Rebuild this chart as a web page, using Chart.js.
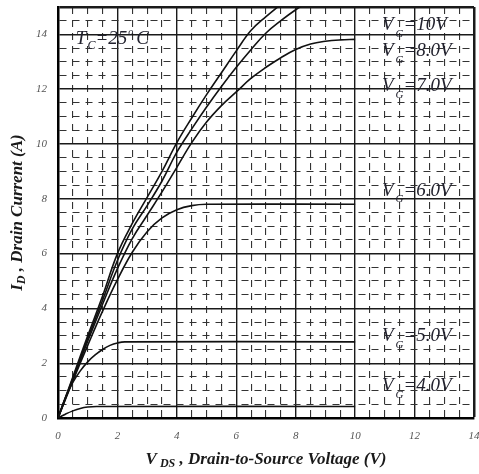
<!DOCTYPE html>
<html>
<head>
<meta charset="utf-8">
<script src="https://cdn.jsdelivr.net/npm/chart.js@4/dist/chart.umd.min.js"></script>
<style>
  html, body { margin: 0; padding: 0; background: #fff; }
  #wrap { width: 479px; height: 474px; }
</style>
</head>
<body>
<div id="wrap"><canvas id="ivChart"></canvas></div>
<script>
// output curves, [V_DS, I_D] pairs
const vg10 = [[0,0],[0.5,1.5],[1,3.0],[1.5,4.45],[2,6.0],[2.5,7.1],[3,8.05],[3.5,9.0],[4,10.05],[4.5,10.95],[5,11.8],[5.5,12.6],[6,13.4],[6.5,14.15],[7,14.65],[7.5,15.1]];
const vg8  = [[0,0],[0.5,1.45],[1,2.9],[1.5,4.3],[2,5.75],[2.5,6.9],[3,7.75],[3.5,8.65],[4,9.7],[4.5,10.55],[5,11.35],[5.5,12.1],[6,12.8],[6.5,13.45],[7,14.05],[7.5,14.5],[8,14.9],[8.3,15.1]];
const vg7  = [[0,0],[0.5,1.4],[1,2.8],[1.5,4.15],[2,5.45],[2.5,6.55],[3,7.4],[3.5,8.25],[4,9.15],[4.5,10.05],[5,10.8],[5.5,11.4],[6,11.9],[6.5,12.4],[7,12.8],[7.5,13.15],[8,13.45],[8.5,13.65],[9,13.75],[9.5,13.8],[10,13.82]];
const vg6  = [[0,0],[0.5,1.35],[1,2.65],[1.5,3.9],[2,5.05],[2.5,6.05],[3,6.8],[3.5,7.3],[4,7.6],[4.5,7.75],[5,7.8],[10,7.8]];
const vg5  = [[0,0],[0.25,0.75],[0.5,1.3],[0.75,1.72],[1,2.05],[1.25,2.3],[1.5,2.5],[1.75,2.65],[2,2.74],[2.25,2.78],[10,2.78]];
const vg4  = [[0,0],[0.25,0.14],[0.5,0.26],[0.75,0.35],[1,0.4],[1.3,0.42],[10,0.42]];

const curveNames = ["VG=10V", "VG=8.0V", "VG=7.0V", "VG=6.0V", "VG=5.0V", "VG=4.0V"];

// curve labels on the right side: [gate text, x, y]
const curveLabels = [["=10V", 10.9, 14.33], ["=8.0V", 10.9, 13.38], ["=7.0V", 10.9, 12.1],
                     ["=6.0V", 10.9, 8.3], ["=5.0V", 10.9, 2.99], ["=4.0V", 10.9, 1.16]];

const xMax = 14, yMax = 15;
const serif = '"Liberation Serif", "DejaVu Serif", serif';

const toPts = arr => arr.map(p => ({ x: p[0], y: p[1] }));

const isMajor = v => Math.abs(v % 2) < 1e-6;

function gridOpts(limit) {
  return {
    drawTicks: false,
    color: ctx => isMajor(ctx.tick.value) || ctx.tick.value === limit ? '#1a1a1a' : '#333',
    lineWidth: ctx => ctx.tick.value === limit ? 2.5 : (isMajor(ctx.tick.value) ? 1.4 : 1.1)
  };
}

function borderOpts(limit) {
  return {
    display: true,
    color: '#000',
    width: 2.5,
    dash: ctx => (ctx.tick && !isMajor(ctx.tick.value) && ctx.tick.value !== limit) ? [7, 6] : []
  };
}

// draws main text + subscript + rest, returns end x
function drawSub(ctx, x, y, main, sub, rest, size, bold, subSize, subDrop, gap) {
  const w = bold ? 'bold ' : '';
  ctx.font = `italic ${w}${size}px ${serif}`;
  ctx.fillText(main, x, y);
  x += ctx.measureText(main).width + (gap || 0);
  ctx.font = `italic ${w}${subSize}px ${serif}`;
  ctx.fillText(sub, x, y + subDrop);
  x += ctx.measureText(sub).width;
  ctx.font = `italic ${w}${size}px ${serif}`;
  ctx.fillText(rest, x, y);
  return x + ctx.measureText(rest).width;
}

const textPlugin = {
  id: 'ivText',
  afterDraw(chart) {
    const { ctx, scales: { x, y }, chartArea } = chart;
    ctx.save();
    ctx.textBaseline = 'middle';
    ctx.textAlign = 'left';
    ctx.fillStyle = '#22222e';
    curveLabels.forEach(l => {
      drawSub(ctx, x.getPixelForValue(l[1]), y.getPixelForValue(l[2]), 'V', 'G', l[0], 19, false, 11, 9, 2);
    });

    // case temperature
    let px = x.getPixelForValue(0.6), py = y.getPixelForValue(13.85);
    px = drawSub(ctx, px, py, 'T', 'C', '=25', 19, false, 12, 7, 1);
    ctx.font = `italic 10px ${serif}`;
    ctx.fillText('o', px + 1, py - 6);
    ctx.font = `italic 19px ${serif}`;
    ctx.fillText('C', px + 9, py);

    // axis titles
    ctx.fillStyle = '#1a1a1a';
    const cx = (chartArea.left + chartArea.right) / 2;
    ctx.font = `italic bold 17px ${serif}`;
    const xt = ' , Drain-to-Source Voltage (V)';
    let wMain = ctx.measureText('V').width + ctx.measureText(xt).width;
    ctx.font = `italic bold 12px ${serif}`;
    wMain += ctx.measureText(' DS').width;
    drawSub(ctx, cx - wMain / 2, 460, 'V', ' DS', xt, 17, true, 12, 4);

    const cy = (chartArea.top + chartArea.bottom) / 2;
    ctx.translate(18, cy);
    ctx.rotate(-Math.PI / 2);
    ctx.font = `italic bold 17px ${serif}`;
    const yt = ' , Drain Current (A)';
    let wy = ctx.measureText('I').width + ctx.measureText(yt).width;
    ctx.font = `italic bold 12px ${serif}`;
    wy += ctx.measureText('D').width;
    drawSub(ctx, -wy / 2, 0, 'I', 'D', yt, 17, true, 12, 4);
    ctx.restore();
  }
};

const curves = [vg10, vg8, vg7, vg6, vg5, vg4];

new Chart(document.getElementById('ivChart'), {
  type: 'line',
  data: {
    datasets: curves.map((c, i) => ({
      label: curveNames[i],
      data: toPts(c),
      borderColor: '#111',
      borderWidth: 1.6,
      pointRadius: 0,
      fill: false,
      tension: 0.4
    }))
  },
  options: {
    responsive: true,
    maintainAspectRatio: false,
    animation: false,
    layout: { padding: { top: 7, right: 5, left: 0, bottom: 0 } },
    plugins: { legend: { display: false }, tooltip: { enabled: false } },
    scales: {
      x: {
        type: 'linear',
        min: 0,
        max: xMax,
        afterFit: s => { s.height = 56; s.paddingLeft = 0; s.paddingRight = 0; },
        ticks: {
          stepSize: 0.5,
          autoSkip: false,
          maxRotation: 0,
          padding: 12,
          color: '#555',
          font: { family: serif, size: 11, style: 'italic' },
          callback: v => isMajor(v) ? v : ''
        },
        grid: gridOpts(xMax),
        border: borderOpts(xMax)
      },
      y: {
        type: 'linear',
        min: 0,
        max: yMax,
        afterFit: s => { s.width = 58; s.paddingTop = 0; s.paddingBottom = 0; },
        ticks: {
          stepSize: 0.5,
          autoSkip: false,
          padding: 11,
          color: '#555',
          font: { family: serif, size: 11, style: 'italic' },
          callback: v => isMajor(v) ? v : ''
        },
        grid: gridOpts(yMax),
        border: borderOpts(yMax)
      }
    }
  },
  plugins: [textPlugin]
});
</script>
</body>
</html>
